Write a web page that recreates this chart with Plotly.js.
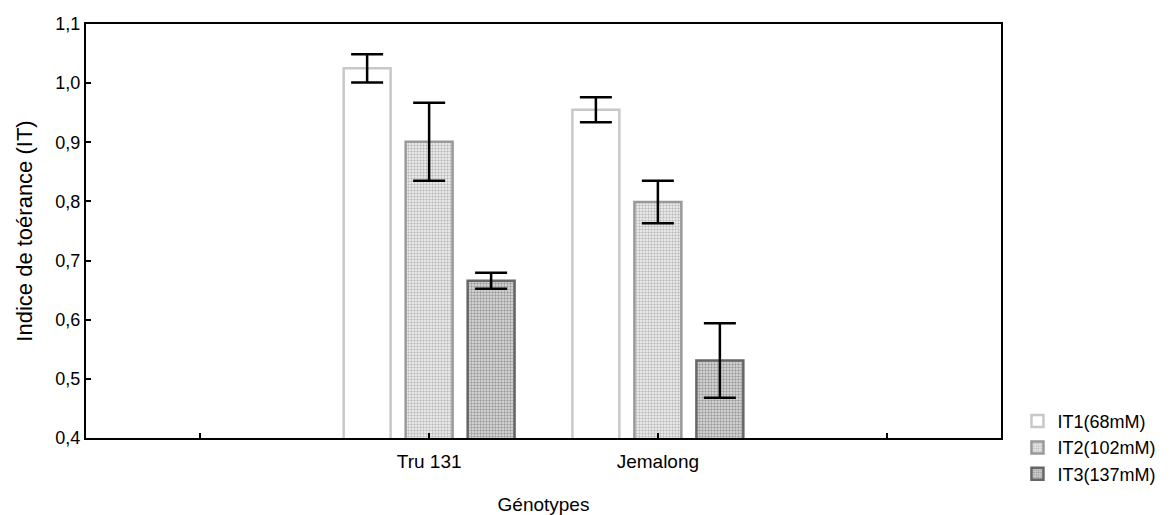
<!DOCTYPE html>
<html>
<head>
<meta charset="utf-8">
<script src="https://cdn.plot.ly/plotly-3.0.1.min.js"></script>
<style>html,body{margin:0;padding:0;background:#fff;}#chart{width:1176px;height:515px;}</style>
</head>
<body>
<div id="chart"></div>
<script>
// Data
const genotypes = ["Tru 131", "Jemalong"];
const genoPositions = [1, 2];
const axisTickVals = [0, 1, 2, 3];
const axisTickText = ["", "Tru 131", "Jemalong", ""];
const seriesNames = ["IT1(68mM)", "IT2(102mM)", "IT3(137mM)"];
const it1 = [1.025, 0.955];
const it2 = [0.901, 0.799];
const it3 = [0.666, 0.531];
const it1Err = [0.024, 0.021];
const it2Err = [0.066, 0.036];
const it3Err = [0.0135, 0.063];

const styles = [
  {bg: "#ffffff", fg: "#ffffff", line: "#c8c8c8", shape: ""},
  {bg: "#f6f6f6", fg: "#bdbdbd", line: "#999999", shape: "."},
  {bg: "#e0e0e0", fg: "#9c9c9c", line: "#666666", shape: "."}
];
const values = [it1, it2, it3];
const errs = [it1Err, it2Err, it3Err];

const font = "Liberation Sans, Arial, sans-serif";
const traces = values.map((v, i) => ({
  type: "bar",
  name: seriesNames[i],
  x: genoPositions,
  y: v,
  marker: {
    color: styles[i].bg,
    line: {color: styles[i].line, width: 2.5},
    pattern: styles[i].shape ? {shape: styles[i].shape, size: 3, solidity: 0.5, fgcolor: styles[i].fg, bgcolor: styles[i].bg, fillmode: "replace"} : undefined
  },
  error_y: {type: "data", array: errs[i], visible: true, color: "#000000", thickness: 2.5, width: 16}
}));

const layout = {
  width: 1176, height: 515,
  margin: {l: 86, r: 175, t: 24, b: 77},
  paper_bgcolor: "#ffffff", plot_bgcolor: "#ffffff",
  separators: ", ",
  barmode: "group",
  bargap: 0.187,
  bargroupgap: 0.243,
  font: {family: font, size: 18, color: "#000"},
  xaxis: {
    range: [-0.5, 3.5],
    tickvals: axisTickVals, ticktext: axisTickText,
    ticks: "inside", ticklen: 5, tickwidth: 2, tickcolor: "#000",
    ticklabelstandoff: 5,
    showline: true, linecolor: "#000", linewidth: 2, mirror: true,
    showgrid: false, zeroline: false,
    tickfont: {family: font, size: 19},
    title: {text: "Génotypes", font: {family: font, size: 19}, standoff: 30}
  },
  yaxis: {
    range: [0.4, 1.1],
    dtick: 0.1, tick0: 0.4, tickformat: ".1f",
    ticks: "inside", ticklen: 5, tickwidth: 2, tickcolor: "#000",
    showline: true, linecolor: "#000", linewidth: 2, mirror: true,
    showgrid: false, zeroline: false,
    tickfont: {family: font, size: 18},
    title: {text: "Indice de toérance (IT)", font: {family: font, size: 22}, standoff: 17}
  },
  legend: {
    x: 1.018, xanchor: "left", y: 0.085, yanchor: "top",
    font: {family: font, size: 18},
    bgcolor: "rgba(0,0,0,0)", borderwidth: 0,
    itemclick: false
  },
  showlegend: true
};

Plotly.newPlot("chart", traces, layout, {displayModeBar: false, staticPlot: true});
</script>
</body>
</html>
